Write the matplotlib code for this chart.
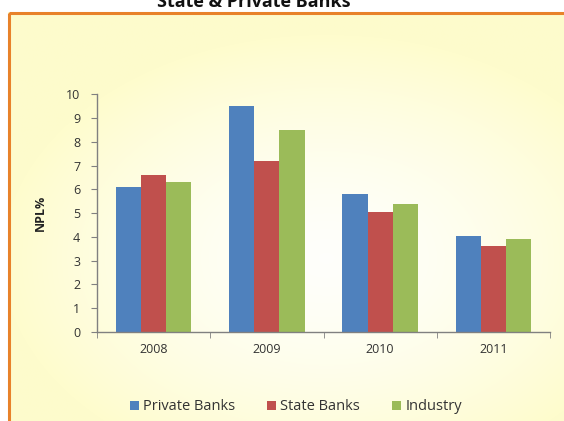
import numpy as np
import matplotlib
matplotlib.use("Agg")
import matplotlib.pyplot as plt
from matplotlib.patches import Rectangle

years = ["2008", "2009", "2010", "2011"]
private_banks = [6.1, 9.5, 5.8, 4.05]
state_banks = [6.6, 7.2, 5.05, 3.6]
industry = [6.3, 8.5, 5.4, 3.9]
series_names = ["Private Banks", "State Banks", "Industry"]
series_colors = ["#4F81BD", "#C0504D", "#9BBB59"]
y_ticks = list(range(0, 11))

plt.rcParams['font.family'] = ['Open Sans', 'DejaVu Sans']
W, H = 564, 421
fig = plt.figure(figsize=(W / 100, H / 100), dpi=100)
fig.patch.set_facecolor("white")

# chart area background with gradient and orange border
bg = fig.add_axes([0, 0, 1, 1], zorder=0)
bg.set_xlim(0, W)
bg.set_ylim(H, 0)
bg.axis("off")
yy, xx = np.mgrid[0:H, 0:W]
d = np.sqrt(((xx - 320) / 330.0) ** 2 + ((yy - 250) / 230.0) ** 2)
t = np.clip(d, 0, 1) ** 1.5
white = np.array([1.0, 1.0, 0.985])
cream = np.array([0.996, 0.988, 0.80])
img = white[None, None, :] * (1 - t[..., None]) + cream[None, None, :] * t[..., None]
bg.imshow(img, extent=[8, W + 5, H + 5, 12], aspect="auto", zorder=0)
bg.add_patch(Rectangle((8.5, 12.5), W, H, fill=False, edgecolor="#E8822A", linewidth=2.2, zorder=2))
bg.set_xlim(0, W)
bg.set_ylim(H, 0)

fig.text(254 / W, 1 - 2 / H, "State & Private Banks", ha="center", va="center",
         fontsize=13, fontweight="bold", color="#111111")

ax = fig.add_axes([97 / W, 1 - 332 / H, (550 - 97) / W, (332 - 94.3) / H], zorder=1)
ax.patch.set_alpha(0)
x = np.arange(len(years))
w = 1 / 4.5
for i, (vals, col, name) in enumerate(zip([private_banks, state_banks, industry], series_colors, series_names)):
    ax.bar(x + (i - 1) * w, vals, width=w, color=col, label=name, zorder=2)

ax.set_xlim(-0.5, len(years) - 0.5)
ax.set_ylim(0, 10)
ax.set_yticks(y_ticks)
ax.set_xticks(x)
ax.set_xticklabels(years)
ax.set_xticks(np.arange(-0.5, len(years)), minor=True)
ax.tick_params(axis="x", which="major", length=0, pad=8, labelsize=9, labelcolor="#333333")
ax.tick_params(axis="x", which="minor", length=4, color="#808080", direction="out")
ax.tick_params(axis="y", length=4, color="#808080", direction="out", labelsize=9, labelcolor="#333333", pad=8)
for s in ["top", "right"]:
    ax.spines[s].set_visible(False)
for s in ["left", "bottom"]:
    ax.spines[s].set_color("#808080")
    ax.spines[s].set_linewidth(1.0)
ax.set_ylabel("NPL%", fontsize=9, fontweight="bold", color="#222222", labelpad=14)

handles, labels = ax.get_legend_handles_labels()
fig.legend(handles, labels, loc="center", bbox_to_anchor=(296 / W, 1 - 407 / H), ncol=3,
           frameon=False, fontsize=10.5, handlelength=0.6, handleheight=0.6,
           handletextpad=0.3, columnspacing=2.2, labelcolor="#333333")

fig.savefig("out.png", dpi=100)
